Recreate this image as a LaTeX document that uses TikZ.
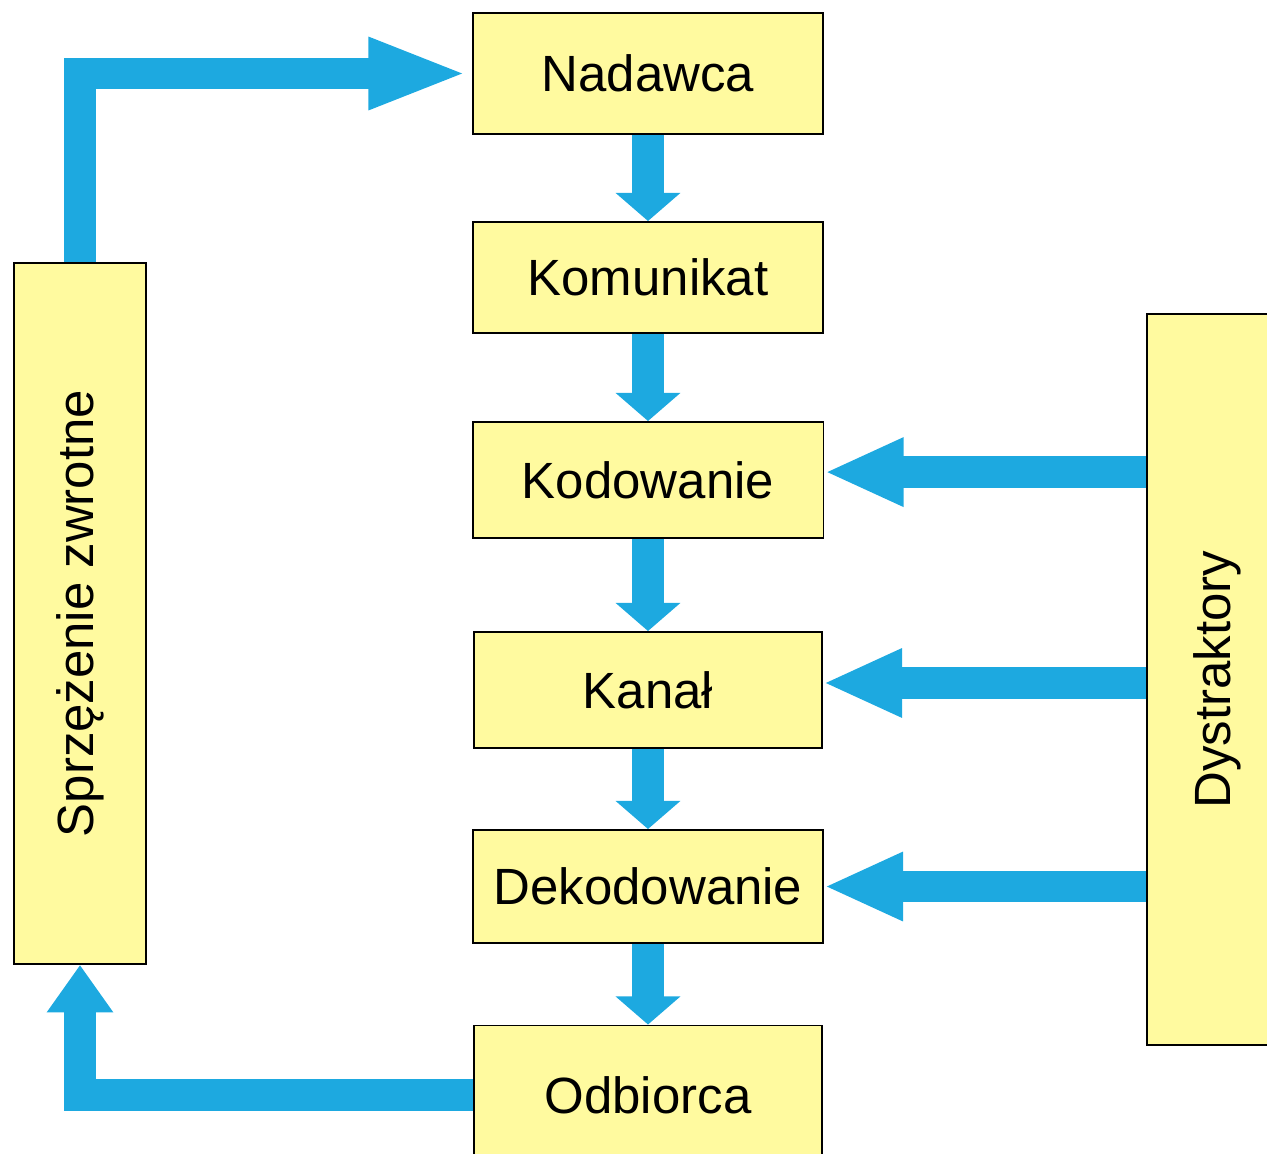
\documentclass[tikz,border=0pt]{standalone}
\usepackage{fontspec}
\setmainfont{Liberation Sans}
\usetikzlibrary{arrows.meta}
\definecolor{boxyellow}{HTML}{FFFA9F}
\definecolor{flowblue}{HTML}{1DA9E0}

\begin{document}
\begin{tikzpicture}
[x=0.02cm,y=-0.02cm,
 box/.style={draw=black,line width=1.1pt,fill=boxyellow,inner sep=0pt,font=\fontsize{29}{35}\selectfont},
 flow/.style={draw=flowblue,line width=18pt,line join=miter,-{Triangle[width=36pt,length=16pt]}}]
\useasboundingbox (0,0) rectangle (1267,1153);

\node[box,minimum width=7cm,minimum height=2.42cm] (nad) at (648,73.5) {Nadawca};
\node[box,minimum width=7cm,minimum height=2.22cm] (kom) at (648,277.5) {Komunikat};
\node[box,minimum width=7.02cm,minimum height=2.32cm] (kod) at (648,480) {Kodowanie};
\node[box,minimum width=6.96cm,minimum height=2.32cm] (kan) at (648,690) {Kanał};
\node[box,minimum width=7cm,minimum height=2.26cm] (dek) at (648,886.5) {Dekodowanie};
\node[box,minimum width=6.96cm,minimum height=2.78cm] (odb) at (648,1095) {Odbiorca};

\node[box,minimum width=2.64cm,minimum height=14.02cm] (sprz) at (80,613.5) {\rotatebox{90}{Sprzężenie zwrotne}};
\node[box,minimum width=2.8cm,minimum height=14.62cm] (dys) at (1217,679.5) {\rotatebox{90}{Dystraktory}};

\foreach \from/\to in {nad/kom,kom/kod,kod/kan,kan/dek,dek/odb}
\draw[flow] (\from) -- (\to);

\foreach \to/\dy in {kod/4.5pt,kan/4pt,dek/0pt}
\draw[flow,-{Triangle[width=36pt,length=45pt]}] ([yshift=\dy]dys.west |- \to) -- ([yshift=\dy]\to.east);

\draw[flow,-{Triangle[width=37pt,length=57pt]},shorten >=2pt] (sprz.north) |- (nad.west);
\draw[flow,-{Triangle[width=36pt,length=27pt]}] (odb.west) -| (sprz.south);
\end{tikzpicture}
\end{document}
